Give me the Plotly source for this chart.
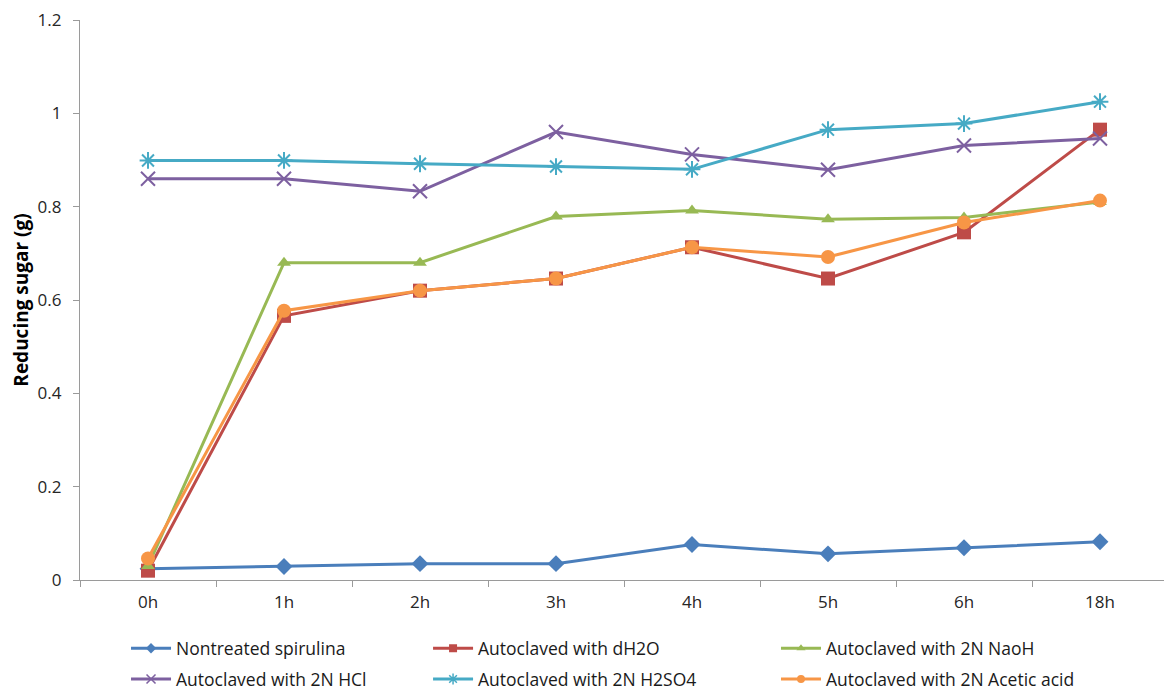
import plotly.graph_objects as go

categories = ["0h", "1h", "2h", "3h", "4h", "5h", "6h", "18h"]

nontreated = [0.024, 0.029, 0.035, 0.035, 0.076, 0.056, 0.069, 0.082]
dh2o = [0.020, 0.566, 0.620, 0.646, 0.713, 0.646, 0.745, 0.965]
naoh = [0.030, 0.680, 0.680, 0.779, 0.792, 0.773, 0.777, 0.810]
hcl = [0.860, 0.860, 0.833, 0.960, 0.912, 0.879, 0.931, 0.946]
h2so4 = [0.899, 0.899, 0.892, 0.886, 0.880, 0.965, 0.978, 1.025]
acetic = [0.046, 0.577, 0.620, 0.646, 0.713, 0.692, 0.766, 0.813]

series_names = [
    "Nontreated spirulina",
    "Autoclaved with dH2O",
    "Autoclaved with 2N NaoH",
    "Autoclaved with 2N HCl",
    "Autoclaved with 2N H2SO4",
    "Autoclaved with 2N Acetic acid",
]
series_values = [nontreated, dh2o, naoh, hcl, h2so4, acetic]
colors = ["#4A7EBB", "#BE4B48", "#98B954", "#7D60A0", "#46AAC5", "#F79646"]
symbols = ["diamond", "square", "triangle-up", "x-thin-open", "asterisk-open", "circle"]
sizes = [13, 14, 12, 14, 14, 14]
legend_sizes = [8, 8, 8, 9, 9, 8]

# legend positions (paper coords)
leg_x = [0.0423, 0.3199, 0.6397, 0.0423, 0.3199, 0.6397]
leg_y = [-0.122, -0.122, -0.122, -0.177, -0.177, -0.177]

FONT = "Open Sans, Noto Sans, sans-serif"

fig = go.Figure()
for i, (name, vals) in enumerate(zip(series_names, series_values)):
    open_sym = symbols[i].endswith("open")
    lg = "legend" if i == 0 else f"legend{i+1}"
    fig.add_trace(go.Scatter(
        x=categories, y=vals, name=name, mode="lines+markers",
        line=dict(color=colors[i], width=3),
        marker=dict(symbol=symbols[i], size=sizes[i], color=colors[i],
                    line=dict(color=colors[i], width=2 if open_sym else 0)),
        showlegend=False,
    ))
    # legend entry with smaller marker (as in the original)
    fig.add_trace(go.Scatter(
        x=[None], y=[None], name=name, mode="lines+markers",
        line=dict(color=colors[i], width=3),
        marker=dict(symbol=symbols[i], size=legend_sizes[i], color=colors[i],
                    line=dict(color=colors[i], width=1.5 if open_sym else 0)),
        legend=lg, showlegend=True, hoverinfo="skip",
    ))

layout_legends = {}
for i in range(6):
    key = "legend" if i == 0 else f"legend{i+1}"
    layout_legends[key] = dict(
        x=leg_x[i], y=leg_y[i], xanchor="left", yanchor="middle",
        orientation="h", bgcolor="rgba(0,0,0,0)", borderwidth=0,
        font=dict(family=FONT, size=17.5, color="#1a1a1a"),
        itemwidth=40,
    )

fig.update_layout(
    width=1172, height=692,
    margin=dict(l=72, r=12, t=12, b=120, autoexpand=False),
    paper_bgcolor="white", plot_bgcolor="white",
    font=dict(family=FONT, size=17, color="#262626"),
    showlegend=True,
    **layout_legends,
)
fig.update_xaxes(
    type="category", range=[-0.5, 7.5], tickson="boundaries",
    showline=True, linecolor="#9a9a9a", linewidth=1.2,
    ticks="outside", ticklen=6, tickcolor="#9a9a9a",
    showgrid=False, zeroline=False, ticklabelstandoff=6,
    ticklabeloverflow="allow",
    tickfont=dict(family=FONT, size=17, color="#262626"),
)
fig.update_yaxes(
    range=[0, 1.2], tickvals=[0, 0.2, 0.4, 0.6, 0.8, 1, 1.2],
    ticktext=["0", "0.2", "0.4", "0.6", "0.8", "1", "1.2"],
    showline=True, linecolor="#9a9a9a", linewidth=1.2,
    ticks="outside", ticklen=6, tickcolor="#9a9a9a",
    showgrid=False, zeroline=False, ticklabelstandoff=8,
    ticklabeloverflow="allow",
    tickfont=dict(family=FONT, size=17, color="#262626"),
    title=dict(text="<b>Reducing sugar (g)</b>", font=dict(family=FONT, size=19, color="#000000"), standoff=6),
)

fig.write_html("out.html")
